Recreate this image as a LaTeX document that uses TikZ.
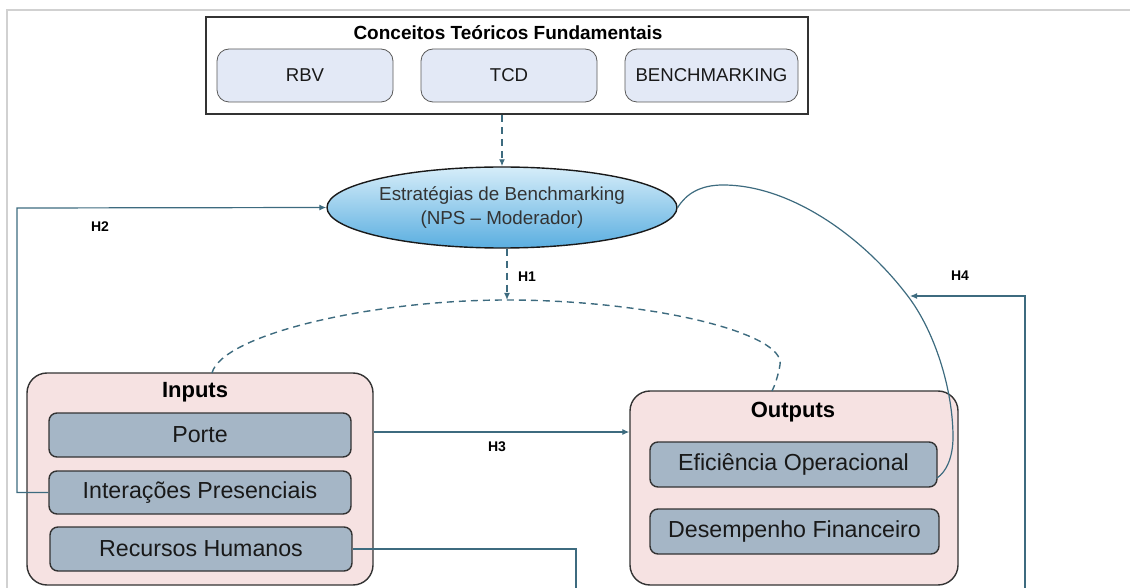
\documentclass[tikz,border=0pt]{standalone}
\usepackage{fontspec}
\setmainfont{Liberation Sans}
\usetikzlibrary{shapes.geometric,arrows.meta}
\definecolor{linkc}{HTML}{3D6B7F}
\definecolor{lavc}{HTML}{E3E9F6}
\definecolor{pinkc}{HTML}{F6E2E2}
\definecolor{slatec}{HTML}{A5B6C6}
\definecolor{ellc}{HTML}{5AAEE0}
\definecolor{ellt}{HTML}{D6EDF9}

\tikzset{
  topbox/.style={draw=black!65, fill=lavc, rounded corners=6pt, minimum width=88pt,
    minimum height=26.5pt, inner sep=0pt, text=black!90, font=\fontsize{9.3}{11}\selectfont},
  groupbox/.style={draw=black!80, fill=pinkc, rounded corners=10pt, line width=0.7pt},
  itembox/.style={draw=black!80, fill=slatec, rounded corners=4pt, line width=0.7pt,
    minimum width=151pt, minimum height=22pt, inner sep=0pt, text=black!90,
    font=\fontsize{11.6}{13}\selectfont},
  grouptitle/.style={font=\bfseries\fontsize{11}{13}\selectfont},
  hlabel/.style={font=\bfseries\fontsize{7}{8}\selectfont},
  link/.style={draw=linkc, line width=0.6pt},
  linkarr/.style={link, -{Latex[length=3.5pt,width=3pt]}},
  dashlink/.style={dash pattern=on 3.5pt off 2.5pt, line width=0.7pt},
}

\begin{document}
\begin{tikzpicture}[x=0.5pt,y=-0.5pt]
  %%%%% START %%%%%
  \useasboundingbox (0,0) rectangle (1130,588);
  \draw[black!18, line width=1pt] (7,588) -- (7,10) -- (1130,10);

  % conceitos teoricos
  \node[draw=black!80, line width=0.8pt, minimum width=301pt, minimum height=48.5pt,
    inner sep=0pt] (conceitos) at (507,65.5) {};
  \node[font=\bfseries\fontsize{9.5}{11}\selectfont] (ctitle) at (508,33) {Conceitos Teóricos Fundamentais};
  \node[topbox] (rbv) at (305,75.5) {RBV};
  \node[topbox] (tcd) at (509,75.5) {TCD};
  \node[topbox, minimum width=86.5pt] (bench) at (711.5,75.5) {BENCHMARKING};

  % moderador
  \node[ellipse, draw=black!90, line width=0.7pt, top color=ellt, bottom color=ellc,
    minimum width=175pt, minimum height=40.5pt, inner sep=0pt, align=center,
    text=black!80, font=\fontsize{9.4}{12}\selectfont] (estrat) at (502,207.5)
    {Estratégias de Benchmarking\\(NPS -- Moderador)};
  \draw[linkarr, dashlink] (conceitos.south -| estrat.north) -- (estrat.north);

  % inputs
  \node[groupbox, minimum width=173pt, minimum height=106pt] (inputs) at (200,479) {};
  \node[grouptitle] (intitle) at (195,392) {Inputs};
  \node[itembox] (porte) at (200,435) {Porte};
  \node[itembox, minimum height=21.5pt] (inter) at (200,492.5) {Interações Presenciais};
  \node[itembox] (recursos) at (201,549) {Recursos Humanos};

  % outputs
  \node[groupbox, minimum width=164pt, minimum height=97pt] (outputs) at (794,488) {};
  \node[grouptitle] (outtitle) at (793,412) {Outputs};
  \node[itembox, minimum width=143.5pt, minimum height=22.5pt] (efic) at (793.5,464.5) {Eficiência Operacional};
  \node[itembox, minimum width=144.5pt, minimum height=22.5pt] (desemp) at (794.5,531.5) {Desempenho Financeiro};

  % H1
  \coordinate (h1top) at (507,300);
  \coordinate (inleft) at (212,373);
  \coordinate (outright) at (772,391);
  \draw[linkarr, dashlink] (estrat.south -| h1top) -- (h1top);
  \node[hlabel] (h1) at (527,277) {H1};
  \draw[link, dashlink] (inleft) .. controls (222,335) and (370,300) .. (h1top)
    .. controls (650,300) and (786,333) .. (780,365)
    .. controls (778,376) and (775,385) .. (outright);

  % H2
  \coordinate (h2c) at (17,208);
  \draw[linkarr] (inter.west) -| (h2c) -- (estrat.west);
  \node[hlabel] (h2) at (100,227) {H2};

  % H3
  \draw[linkarr] (inputs.east |- 0,432) -- (outputs.west |- 0,432);
  \node[hlabel] (h3) at (497,447) {H3};

  % H4
  \coordinate (rhend) at (576,588);
  \draw[link] (recursos.east) -| (rhend);
  \draw[link] (estrat.east) .. controls (686,194) and (700,185) .. (723,185)
    .. controls (790,185) and (862,236) .. (907,295)
    .. controls (935,331) and (953,390) .. (953,437)
    .. controls (953,458) and (946,472) .. (937,478);
  \coordinate (h4end) at (910,296);
  \coordinate (h4start) at (1025,588);
  \draw[linkarr] (h4start) |- (h4end);
  \node[hlabel] (h4) at (960,276) {H4};
  %%%%% END %%%%%
\end{tikzpicture}
\end{document}
